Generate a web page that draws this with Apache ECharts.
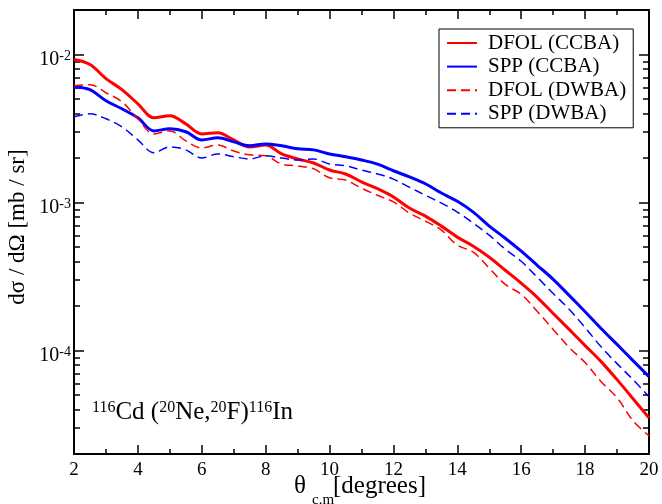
<!DOCTYPE html>
<html>
<head>
<meta charset="utf-8">
<script src="https://cdn.jsdelivr.net/npm/echarts@6/dist/echarts.min.js"></script>
<style>
html, body { margin: 0; padding: 0; background: #fff; }
#chart { width: 662px; height: 504px; }
</style>
</head>
<body>
<div id="chart"></div>
<script>
// scattering angle (degrees, c.m.)
const theta = [2, 2.5, 3, 3.5, 4, 4.5, 5, 5.5, 6, 6.5, 7, 7.5, 8, 8.5, 9, 9.5, 10, 10.5, 11, 11.5,
  12, 12.5, 13, 13.5, 14, 14.5, 15, 15.5, 16, 16.5, 17, 17.5, 18, 18.5, 19, 19.5, 20];

// dsigma/dOmega in mb/sr
const dfolCcba = [9.25e-3, 8.56e-3, 6.88e-3, 5.79e-3, 4.65e-3, 3.74e-3, 3.86e-3, 3.40e-3, 2.91e-3, 2.96e-3,
  2.65e-3, 2.37e-3, 2.45e-3, 2.13e-3, 1.97e-3, 1.85e-3, 1.66e-3, 1.56e-3, 1.38e-3, 1.24e-3,
  1.09e-3, 9.18e-4, 8.10e-4, 6.93e-4, 5.84e-4, 5.07e-4, 4.27e-4, 3.49e-4, 2.85e-4, 2.29e-4,
  1.78e-4, 1.39e-4, 1.08e-4, 8.42e-5, 6.36e-5, 4.73e-5, 3.51e-5];
const sppCcba = [6.07e-3, 5.79e-3, 4.88e-3, 4.30e-3, 3.74e-3, 3.05e-3, 3.15e-3, 3.01e-3, 2.65e-3, 2.74e-3,
  2.57e-3, 2.42e-3, 2.49e-3, 2.42e-3, 2.31e-3, 2.27e-3, 2.13e-3, 2.04e-3, 1.94e-3, 1.82e-3,
  1.64e-3, 1.49e-3, 1.34e-3, 1.16e-3, 1.02e-3, 8.62e-4, 6.93e-4, 5.74e-4, 4.69e-4, 3.77e-4,
  3.03e-4, 2.36e-4, 1.83e-4, 1.41e-4, 1.10e-4, 8.55e-5, 6.66e-5];
const dfolDwba = [6.16e-3, 6.26e-3, 5.52e-3, 4.80e-3, 3.68e-3, 2.91e-3, 3.05e-3, 2.61e-3, 2.34e-3, 2.45e-3,
  2.23e-3, 2.10e-3, 2.07e-3, 1.82e-3, 1.77e-3, 1.69e-3, 1.47e-3, 1.42e-3, 1.25e-3, 1.12e-3,
  1.01e-3, 8.49e-4, 7.49e-4, 6.51e-4, 5.15e-4, 4.62e-4, 3.60e-4, 2.80e-4, 2.40e-4, 1.84e-4,
  1.39e-4, 1.05e-4, 8.29e-5, 6.16e-5, 4.80e-5, 3.35e-5, 2.65e-5];
const sppDwba = [3.80e-3, 3.98e-3, 3.68e-3, 3.25e-3, 2.65e-3, 2.17e-3, 2.38e-3, 2.27e-3, 2.00e-3, 2.13e-3,
  2.04e-3, 1.97e-3, 2.07e-3, 2.00e-3, 1.94e-3, 1.97e-3, 1.82e-3, 1.77e-3, 1.66e-3, 1.56e-3,
  1.44e-3, 1.27e-3, 1.12e-3, 9.92e-4, 8.62e-4, 7.26e-4, 6.02e-4, 4.84e-4, 4.01e-4, 3.13e-4,
  2.43e-4, 1.90e-4, 1.43e-4, 1.06e-4, 8.16e-5, 6.36e-5, 4.88e-5];

// ticks
const yMajor = [1e-4, 1e-3, 1e-2];
const decades = [1e-5, 1e-4, 1e-3, 1e-2];
const mantissas = [2, 3, 4, 5, 6, 7, 8, 9];

const yMinor = [];
decades.forEach(d => mantissas.forEach(m => {
  const v = +(m * d).toPrecision(3);
  if (v >= 2e-5 && v < 2e-2) yMinor.push(v);
}));

const FONT = '"Liberation Serif", "Times New Roman", serif';
const RED = '#ff0000';
const BLUE = '#0000ff';

const pairs = ys => theta.map((t, i) => [t, ys[i]]);

const axisLine = { show: true, onZero: false, lineStyle: { color: '#000', width: 2 } };

function xAx(pos, labels) {
  return {
    type: 'value', min: 2, max: 20, interval: 2, position: pos,
    axisLine: axisLine,
    axisTick: { inside: true, length: 9, lineStyle: { color: '#000', width: 1.5 } },
    minorTick: { show: true, splitNumber: 2, length: 5, lineStyle: { color: '#000', width: 1.5 } },
    axisLabel: { show: labels, color: '#000', fontSize: 19, fontFamily: FONT, margin: 7 },
    splitLine: { show: false }, minorSplitLine: { show: false }
  };
}

function yAx(pos, major) {
  return {
    type: 'log', logBase: 10, min: 2e-5, max: 2e-2, position: pos,
    axisLine: major ? axisLine : { show: false },
    axisTick: { inside: true, length: major ? 10 : 6, customValues: major ? yMajor : yMinor,
      lineStyle: { color: '#000', width: 1.5 } },
    axisLabel: {
      show: major && pos === 'left', customValues: yMajor, margin: 3,
      padding: [10, 0, 0, 0],
      formatter: v => '{b|10}{s|' + Math.round(Math.log10(v)) + '}',
      rich: {
        b: { fontSize: 20, lineHeight: 20, fontFamily: FONT, color: '#000', verticalAlign: 'bottom' },
        s: { fontSize: 14, lineHeight: 14, fontFamily: FONT, color: '#000', verticalAlign: 'top', padding: [0, 0, 10, 0] }
      }
    },
    splitLine: { show: false }
  };
}

function line(name, ys, color, dashed) {
  return {
    name: name, type: 'line', data: pairs(ys), xAxisIndex: 0, yAxisIndex: 0,
    symbol: 'none', smooth: 0.35, clip: true,
    lineStyle: { color: color, width: dashed ? 1.5 : 3, type: dashed ? [9, 5] : 'solid' },
    itemStyle: { color: color }
  };
}

function label(text, x, y, size, rot) {
  return {
    type: 'text', x: x, y: y, rotation: rot || 0,
    style: { text: text, font: size + 'px ' + FONT, fill: '#000', align: rot ? 'center' : 'left', verticalAlign: 'middle' }
  };
}

const chart = echarts.init(document.getElementById('chart'));
chart.setOption({
  animation: false,
  backgroundColor: '#fff',
  grid: { left: 74, right: 13, top: 10, bottom: 50, containLabel: false },
  xAxis: [xAx('bottom', true), xAx('top', false)],
  yAxis: [yAx('left', true), yAx('left', false), yAx('right', true), yAx('right', false)],
  legend: {
    orient: 'vertical', left: 439, top: 29,
    itemWidth: 30, itemHeight: 14, itemGap: 2.6,
    padding: [3.5, 7, 3.5, 7],
    borderColor: '#000', borderWidth: 1, backgroundColor: '#fff',
    itemStyle: { opacity: 0 },
    textStyle: { fontSize: 21, fontFamily: FONT, color: '#000', lineHeight: 21, padding: [0, 0, 0, 6] },
    data: ['DFOL (CCBA)', 'SPP (CCBA)', 'DFOL (DWBA)', 'SPP (DWBA)']
  },
  graphic: [
    label('dσ / dΩ [mb / sr]', 18, 227, 23, Math.PI / 2),
    // x title: theta, subscript c.m, unit
    label('θ', 294, 486, 25),
    label('c.m', 312, 500, 15),
    label('[degrees]', 333, 486, 25),
    {
      type: 'text', x: 92, y: 412,
      style: {
        text: '{s|116}{b|Cd (}{s|20}{b|Ne,}{s|20}{b|F)}{s|116}{b|In}', align: 'left', verticalAlign: 'middle',
        rich: {
          b: { fontSize: 25, lineHeight: 25, fontFamily: FONT, fill: '#000', verticalAlign: 'bottom' },
          s: { fontSize: 16, lineHeight: 16, fontFamily: FONT, fill: '#000', verticalAlign: 'top', padding: [0, 0, 10, 0] }
        }
      }
    }
  ],
  series: [
    line('DFOL (CCBA)', dfolCcba, RED, false),
    line('SPP (CCBA)', sppCcba, BLUE, false),
    line('DFOL (DWBA)', dfolDwba, RED, true),
    line('SPP (DWBA)', sppDwba, BLUE, true)
  ]
});
</script>
</body>
</html>
